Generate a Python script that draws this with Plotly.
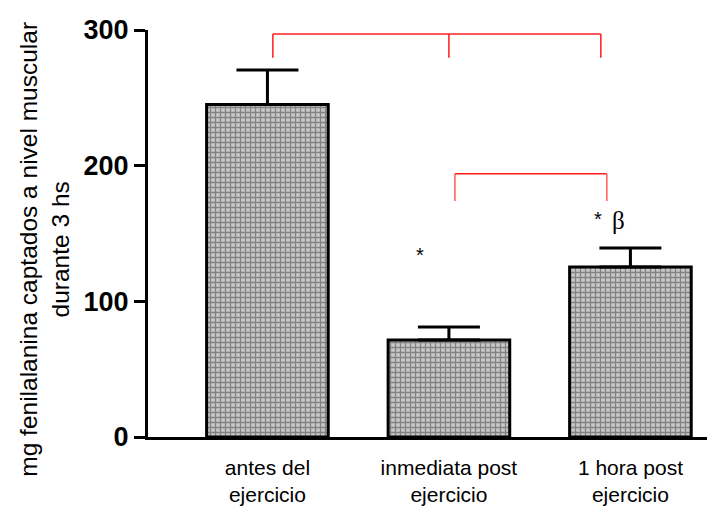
import plotly.graph_objects as go

# ---- data ----
categories = ["antes del<br>ejercicio", "inmediata post<br>ejercicio", "1 hora post<br>ejercicio"]
positions = [0, 1, 2]
means = [245, 71.5, 125.3]
errors_plus = [25.5, 9.6, 14.0]
y_ticks = [0, 100, 200, 300]

# significance brackets (data coordinates)
bracket1_x = [0.03, 1.0, 1.837]
bracket1_y = [297, 279.5]
bracket2_x = [1.033, 1.87]
bracket2_y = [194, 174]

marks = [
    ("*", 0.84, 134),
    ("*", 1.82, 160.5),
]
beta = ("β", 1.935, 159.5)

fig = go.Figure()
fig.add_trace(go.Bar(
    x=positions, y=means, width=0.67,
    marker=dict(
        color="#b0b0b0",
        line=dict(color="black", width=3),
        pattern=dict(shape="+", fgcolor="#3c3c3c", bgcolor="#c8c8c8", size=5, solidity=0.45),
    ),
    error_y=dict(type="data", symmetric=False, array=errors_plus,
                 arrayminus=[0, 0, 0], color="black", thickness=3, width=31),
    showlegend=False,
))

shapes = []
red1 = "#ff5a5a"
red2 = "#ff1a1a"
# bracket 1
shapes.append(dict(type="line", xref="x", yref="y", x0=bracket1_x[0], x1=bracket1_x[-1],
                   y0=bracket1_y[0], y1=bracket1_y[0], line=dict(color=red1, width=2)))
for bx in bracket1_x:
    shapes.append(dict(type="line", xref="x", yref="y", x0=bx, x1=bx,
                       y0=bracket1_y[0], y1=bracket1_y[1], line=dict(color=red2, width=1.5)))
# bracket 2
shapes.append(dict(type="line", xref="x", yref="y", x0=bracket2_x[0], x1=bracket2_x[-1],
                   y0=bracket2_y[0], y1=bracket2_y[0], line=dict(color=red2, width=1.5)))
for bx in bracket2_x:
    shapes.append(dict(type="line", xref="x", yref="y", x0=bx, x1=bx,
                       y0=bracket2_y[0], y1=bracket2_y[1], line=dict(color=red1, width=1.5)))

annotations = []
for t, ax_, ay_ in marks:
    annotations.append(dict(text=t, x=ax_, y=ay_, xref="x", yref="y", showarrow=False,
                            font=dict(family="Liberation Sans", size=20, color="black"),
                            xanchor="center", yanchor="middle"))
annotations.append(dict(text=beta[0], x=beta[1], y=beta[2], xref="x", yref="y", showarrow=False,
                        font=dict(family="Liberation Serif", size=25, color="black"),
                        xanchor="center", yanchor="middle"))
annotations.append(dict(text="mg fenilalanina captados a nivel muscular<br>durante 3 hs",
                        x=-0.182, y=0.462, xref="paper", yref="paper", showarrow=False,
                        textangle=-90, align="center",
                        font=dict(family="Liberation Sans", size=24.5, color="black"),
                        xanchor="center", yanchor="middle"))

fig.update_layout(
    width=707, height=498,
    margin=dict(l=140, r=0, t=22, b=69),
    paper_bgcolor="white", plot_bgcolor="white",
    shapes=shapes, annotations=annotations,
    xaxis=dict(range=[-0.658, 2.466], tickvals=positions, ticktext=categories,
               showline=True, linecolor="black", linewidth=2.5, ticks="",
               ticklabelstandoff=10,
               showgrid=False, zeroline=False, automargin=False,
               tickfont=dict(family="Liberation Sans", size=21, color="black")),
    yaxis=dict(range=[0, 300], tickvals=y_ticks, showline=True, linecolor="black",
               linewidth=3, ticks="outside", ticklen=11, tickwidth=2.5, tickcolor="black",
               showgrid=False, zeroline=False, automargin=False,
               tickfont=dict(family="Liberation Sans", size=27, color="black", weight="bold")),
)

fig.write_html("out.html")
